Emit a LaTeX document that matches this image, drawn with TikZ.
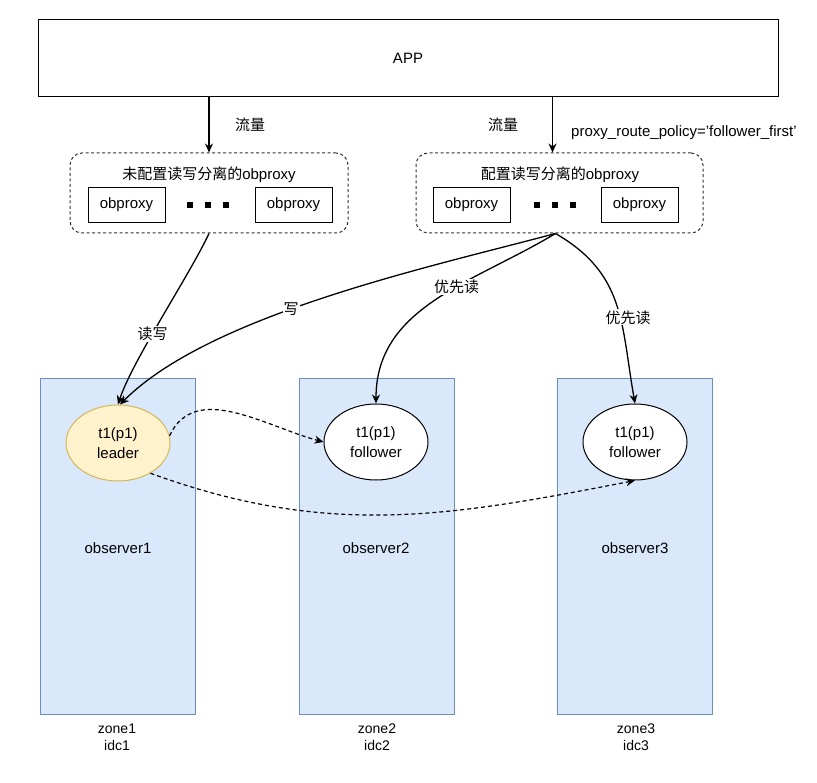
\documentclass[tikz,border=0pt]{standalone}
\usepackage{fontspec}
\setmainfont{Liberation Sans}
\newfontfamily\cjk{Noto Sans CJK SC}
\usetikzlibrary{arrows.meta,shapes.geometric}
\definecolor{zonefill}{HTML}{DAE8FC}
\definecolor{zoneline}{HTML}{6C8EBF}
\definecolor{leadfill}{HTML}{FFF2CC}
\definecolor{leadline}{HTML}{D6B656}
\definecolor{grpline}{HTML}{333333}

\begin{document}
\begin{tikzpicture}[x=1pt, y=1pt, font=\fontsize{15}{20}\selectfont, >={Stealth[length=9pt,width=8pt]},
	box/.style={draw, line width=0.9pt, minimum width=77pt, minimum height=35pt, inner sep=0pt},
	group/.style={draw=grpline, line width=1pt, dash pattern=on 3pt off 2.5pt, rounded corners=12pt, minimum height=80pt},
	sq/.style={fill, minimum size=6pt, inner sep=0pt},
	zone/.style={draw=zoneline, fill=zonefill, line width=0.9pt, minimum width=155pt, minimum height=336pt},
	part/.style={ellipse, draw, line width=1pt, fill=white, minimum width=104pt, minimum height=76pt, inner sep=0pt, align=center},
	flow/.style={->, line width=1.3pt},
	sync/.style={->, line width=1.2pt, dash pattern=on 4pt off 3pt},
	lab/.style={fill=white, inner sep=1pt}]
	\useasboundingbox (0,0) rectangle (817,-783);
	% top
	\node[box, minimum width=740pt, minimum height=77pt] (APP) at (408,-58) {APP};
	% obproxy groups
	\node[group, minimum width=278pt] (G1) at (209,-193) {};
	\node[group, minimum width=287pt] (G2) at (559.5,-193) {};
	\node (T1) at (209,-175) {{\cjk 未配置读写分离的}obproxy};
	\node (T2) at (560,-175) {{\cjk 配置读写分离的}obproxy};
	\node[box] (P11) at (126.5,-204.5) {obproxy};
	\node[box] (P12) at (293.5,-204.5) {obproxy};
	\node[box] (P21) at (471.5,-204.5) {obproxy};
	\node[box] (P22) at (639.5,-204.5) {obproxy};
	\foreach \x/\n in {190/a, 208/b, 226/c, 537/d, 555/e, 573/f}
		\node[sq] (D\n) at (\x,-205) {};
	% zones
	\node[zone] (Z1) at (117.5,-546) {};
	\node[zone] (Z2) at (376.5,-546) {};
	\node[zone] (Z3) at (635,-546) {};
	\node (O1) at (118,-548) {observer1};
	\node (O2) at (376,-548) {observer2};
	\node (O3) at (635,-548) {observer3};
	\node[align=center, font=\fontsize{14}{17}\selectfont] (I1) at (117,-737) {zone1\\idc1};
	\node[align=center, font=\fontsize{14}{17}\selectfont] (I2) at (377,-737) {zone2\\idc2};
	\node[align=center, font=\fontsize{14}{17}\selectfont] (I3) at (636,-737) {zone3\\idc3};
	% replicas
	\node[part, draw=leadline, fill=leadfill] (L) at (118,-443) {t1(p1)\\leader};
	\node[part] (F2) at (376,-442) {t1(p1)\\follower};
	\node[part] (F3) at (635,-442) {t1(p1)\\follower};
	% traffic
	\draw[flow] (APP.south -| G1.north) -- (G1.north);
	\draw[flow] ([xshift=-7pt]APP.south -| G2.north) -- ([xshift=-7pt]G2.north);
	\node (R1) at (250,-125) {\cjk 流量};
	\node (R2) at (503,-125) {\cjk 流量};
	\node (POL) at (684,-133) {proxy\_route\_policy='follower\_first'};
	\path[flow]
		(G1.south) edge[out=245, in=72, looseness=0.6] node[lab, pos=0.58] {\cjk 读写} (L.north)
		([xshift=-4pt]G2.south) edge[out=195, in=45, looseness=0.7] node[lab, pos=0.57] {\cjk 写} ([xshift=2pt]L.north)
		([xshift=-4pt]G2.south) edge[out=211, in=90] node[lab, pos=0.4] {\cjk 优先读} (F2.north)
		([xshift=-4pt]G2.south) edge[out=-30, in=100, looseness=1.1] node[lab, pos=0.58, xshift=8pt] {\cjk 优先读} (F3.north);
	\path[sync]
		(L.8) edge[out=65, in=165] (F2.west)
		(L.-43) edge[out=-20, in=191] (F3.south);
\end{tikzpicture}
\end{document}
